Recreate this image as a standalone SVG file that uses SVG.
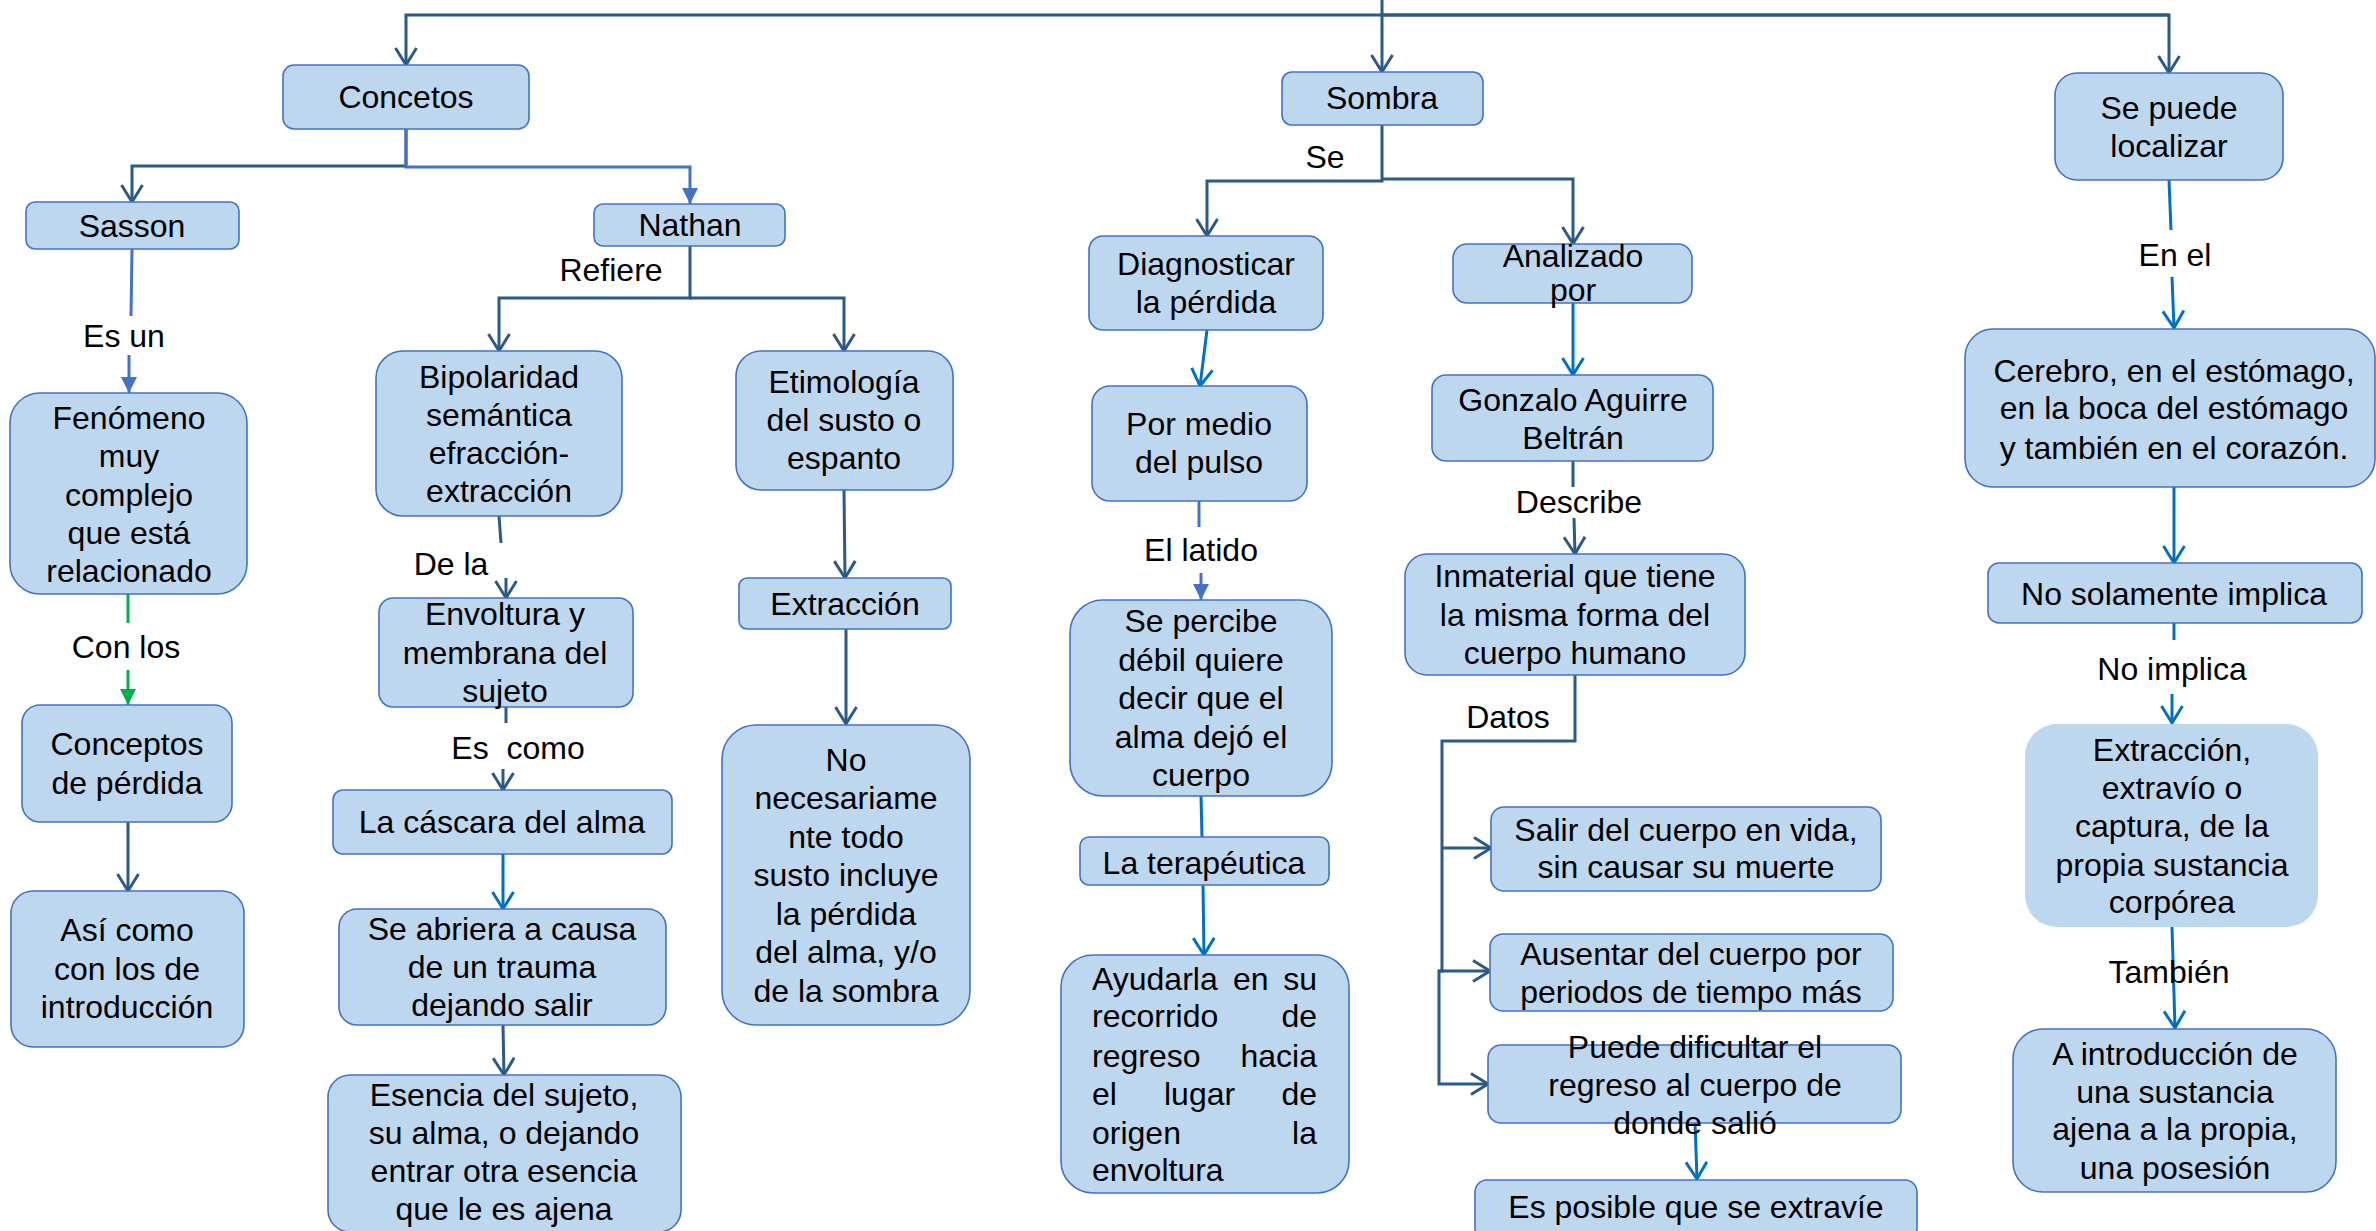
<svg xmlns="http://www.w3.org/2000/svg" width="2376" height="1231" viewBox="0 0 2376 1231">
<style>
.n{fill:#BDD7EE;stroke:#4472C4;stroke-width:1.6}
.nf{fill:#BDD7EE;stroke:none}
.t{font-family:"Liberation Sans",Arial,sans-serif;font-size:32px;fill:#000;text-anchor:middle}
.tl{font-family:"Liberation Sans",Arial,sans-serif;font-size:32px;fill:#000;text-anchor:start}
.te{font-family:"Liberation Sans",Arial,sans-serif;font-size:32px;fill:#000;text-anchor:end}
.d{fill:none;stroke:#2B5A86;stroke-width:3}
.m{fill:none;stroke:#4472C4;stroke-width:3}
.b{fill:none;stroke:#0070C0;stroke-width:3}
.g{fill:none;stroke:#00B050;stroke-width:3}
</style>
<defs>
<marker id="aD" viewBox="-2 -2 22 25" refX="17" refY="10.5" markerWidth="22" markerHeight="25" orient="auto" markerUnits="userSpaceOnUse" overflow="visible"><path d="M0,0 L17,10.5 L0,21" fill="none" stroke="#2B5A86" stroke-width="3"/></marker>
<marker id="aB" viewBox="-2 -2 22 25" refX="17" refY="10.5" markerWidth="22" markerHeight="25" orient="auto" markerUnits="userSpaceOnUse" overflow="visible"><path d="M0,0 L17,10.5 L0,21" fill="none" stroke="#0070C0" stroke-width="3"/></marker>
<marker id="tM" viewBox="0 0 16 16" refX="16" refY="8" markerWidth="16" markerHeight="16" orient="auto" markerUnits="userSpaceOnUse"><path d="M0,0 L16,8 L0,16 Z" fill="#4472C4"/></marker>
<marker id="tG" viewBox="0 0 16 16" refX="16" refY="8" markerWidth="16" markerHeight="16" orient="auto" markerUnits="userSpaceOnUse"><path d="M0,0 L16,8 L0,16 Z" fill="#00B050"/></marker>
</defs>

<g id="connectors">
<path class="d" d="M1382,0 V15"/>
<path class="d" d="M2169,15 H406 V65" marker-end="url(#aD)"/>
<path class="d" d="M1382,15 V72" marker-end="url(#aD)"/>
<path class="d" d="M1382,15 H2169 V73" marker-end="url(#aD)"/>
<path class="d" d="M406,129 V166 H132 V202" marker-end="url(#aD)"/>
<path class="m" d="M406,129 V167 H690 V204" marker-end="url(#tM)"/>
<path class="m" d="M132,249 L131,316"/>
<path class="m" d="M129,355 L129,393" marker-end="url(#tM)"/>
<path class="g" d="M128,594 V623"/>
<path class="g" d="M128,670 V705" marker-end="url(#tG)"/>
<path class="d" d="M128,822 V891" marker-end="url(#aD)"/>
<path class="d" d="M690,246 V298 H499 V351" marker-end="url(#aD)"/>
<path class="d" d="M690,298 H844 V351" marker-end="url(#aD)"/>
<path class="d" d="M499,516 L501,543"/>
<path class="d" d="M506,578 V598" marker-end="url(#aD)"/>
<path class="d" d="M506,707 V723"/>
<path class="d" d="M503,769 V790" marker-end="url(#aD)"/>
<path class="b" d="M503,854 V909" marker-end="url(#aB)"/>
<path class="d" d="M503,1025 L504,1075" marker-end="url(#aD)"/>
<path class="d" d="M844,490 L845,578" marker-end="url(#aD)"/>
<path class="d" d="M846,629 V724" marker-end="url(#aD)"/>
<path class="d" d="M1382,125 V181 H1207 V236" marker-end="url(#aD)"/>
<path class="d" d="M1382,179 H1573 V244" marker-end="url(#aD)"/>
<path class="b" d="M1207,330 L1200,386" marker-end="url(#aB)"/>
<path class="m" d="M1199,501 V527"/>
<path class="m" d="M1201,573 V600" marker-end="url(#tM)"/>
<path class="b" d="M1201,796 L1202,837"/>
<path class="b" d="M1203,885 L1204,955" marker-end="url(#aB)"/>
<path class="b" d="M1573,303 V375" marker-end="url(#aB)"/>
<path class="d" d="M1573,461 V487"/>
<path class="d" d="M1574,518 L1575,554" marker-end="url(#aD)"/>
<path class="d" d="M1575,675 V741 H1442 V971 H1439 V1084 H1488" marker-end="url(#aD)"/>
<path class="d" d="M1442,848 H1491" marker-end="url(#aD)"/>
<path class="d" d="M1439,971 H1490" marker-end="url(#aD)"/>
<path class="b" d="M1695,1122 L1697,1179" marker-end="url(#aB)"/>
<path class="b" d="M2169,180 L2171,230"/>
<path class="b" d="M2172,277 L2174,328" marker-end="url(#aB)"/>
<path class="b" d="M2174,487 V563" marker-end="url(#aB)"/>
<path class="b" d="M2174,623 V640"/>
<path class="b" d="M2172,694 V723" marker-end="url(#aB)"/>
<path class="b" d="M2172,927 L2175,1028" marker-end="url(#aB)"/>
</g>

<g id="labels">
<text class="t" x="611" y="281">Refiere</text>
<text class="t" x="124" y="347">Es un</text>
<text class="t" x="126" y="658">Con los</text>
<text class="t" x="451" y="575">De la</text>
<text class="t" x="518" y="759" xml:space="preserve">Es  como</text>
<text class="t" x="1325" y="168">Se</text>
<text class="t" x="1201" y="561">El latido</text>
<text class="t" x="1579" y="513">Describe</text>
<text class="t" x="1508" y="728">Datos</text>
<text class="t" x="2175" y="266">En el</text>
<text class="t" x="2172" y="680">No implica</text>
<text class="t" x="2169" y="983">También</text>
</g>

<g id="n-concetos"><rect class="n" x="283" y="65" width="246" height="64" rx="11"/><text class="t" x="406" y="108">Concetos</text></g>
<g id="n-sasson"><rect class="n" x="26" y="202" width="213" height="47" rx="9"/><text class="t" x="132" y="237">Sasson</text></g>
<g id="n-nathan"><rect class="n" x="594" y="204" width="191" height="42" rx="9"/><text class="t" x="690" y="236">Nathan</text></g>
<g id="n-fenomeno"><rect class="n" x="10" y="393" width="237" height="201" rx="30"/><text class="t"><tspan x="129" y="429">Fenómeno</tspan><tspan x="129" y="467">muy</tspan><tspan x="129" y="506">complejo</tspan><tspan x="129" y="544">que está</tspan><tspan x="129" y="582">relacionado</tspan></text></g>
<g id="n-conceptos"><rect class="n" x="22" y="705" width="210" height="117" rx="18"/><text class="t"><tspan x="127" y="755">Conceptos</tspan><tspan x="127" y="794">de pérdida</tspan></text></g>
<g id="n-asicomo"><rect class="n" x="11" y="891" width="233" height="156" rx="22"/><text class="t"><tspan x="127" y="941">Así como</tspan><tspan x="127" y="980">con los de</tspan><tspan x="127" y="1018">introducción</tspan></text></g>
<g id="n-bipolaridad"><rect class="n" x="376" y="351" width="246" height="165" rx="27"/><text class="t"><tspan x="499" y="388">Bipolaridad</tspan><tspan x="499" y="426">semántica</tspan><tspan x="499" y="464">efracción-</tspan><tspan x="499" y="502">extracción</tspan></text></g>
<g id="n-envoltura"><rect class="n" x="379" y="598" width="254" height="109" rx="14"/><text class="t"><tspan x="505" y="625">Envoltura y</tspan><tspan x="505" y="664">membrana del</tspan><tspan x="505" y="702">sujeto</tspan></text></g>
<g id="n-cascara"><rect class="n" x="333" y="790" width="339" height="64" rx="10"/><text class="t" x="502" y="833">La cáscara del alma</text></g>
<g id="n-abriera"><rect class="n" x="339" y="909" width="327" height="116" rx="18"/><text class="t"><tspan x="502" y="940">Se abriera a causa</tspan><tspan x="502" y="978">de un trauma</tspan><tspan x="502" y="1016">dejando salir</tspan></text></g>
<g id="n-esencia"><rect class="n" x="328" y="1075" width="353" height="157" rx="22"/><text class="t"><tspan x="504" y="1106">Esencia del sujeto,</tspan><tspan x="504" y="1144">su alma, o dejando</tspan><tspan x="504" y="1182">entrar otra esencia</tspan><tspan x="504" y="1220">que le es ajena</tspan></text></g>
<g id="n-etimologia"><rect class="n" x="736" y="351" width="217" height="139" rx="25"/><text class="t"><tspan x="844" y="393">Etimología</tspan><tspan x="844" y="431">del susto o</tspan><tspan x="844" y="469">espanto</tspan></text></g>
<g id="n-extraccion"><rect class="n" x="739" y="578" width="212" height="51" rx="8"/><text class="t" x="845" y="615">Extracción</text></g>
<g id="n-nonecesariamente"><rect class="n" x="722" y="725" width="248" height="300" rx="34"/><text class="t"><tspan x="846" y="771">No</tspan><tspan x="846" y="809">necesariame</tspan><tspan x="846" y="848">nte todo</tspan><tspan x="846" y="886">susto incluye</tspan><tspan x="846" y="925">la pérdida</tspan><tspan x="846" y="963">del alma, y/o</tspan><tspan x="846" y="1002">de la sombra</tspan></text></g>
<g id="n-sombra"><rect class="n" x="1282" y="72" width="201" height="53" rx="10"/><text class="t" x="1382" y="109">Sombra</text></g>
<g id="n-diagnosticar"><rect class="n" x="1089" y="236" width="234" height="94" rx="14"/><text class="t"><tspan x="1206" y="275">Diagnosticar</tspan><tspan x="1206" y="313">la pérdida</tspan></text></g>
<g id="n-pormedio"><rect class="n" x="1092" y="386" width="215" height="115" rx="18"/><text class="t"><tspan x="1199" y="435">Por medio</tspan><tspan x="1199" y="473">del pulso</tspan></text></g>
<g id="n-percibe"><rect class="n" x="1070" y="600" width="262" height="196" rx="33"/><text class="t"><tspan x="1201" y="632">Se percibe</tspan><tspan x="1201" y="671">débil quiere</tspan><tspan x="1201" y="709">decir que el</tspan><tspan x="1201" y="748">alma dejó el</tspan><tspan x="1201" y="786">cuerpo</tspan></text></g>
<g id="n-terapeutica"><rect class="n" x="1080" y="837" width="249" height="48" rx="9"/><text class="t" x="1204" y="874">La terapéutica</text></g>
<g id="n-ayudarla"><rect class="n" x="1061" y="955" width="288" height="238" rx="32"/>
<text class="tl" x="1092" y="990">Ayudarla</text><text class="tl" x="1233" y="990">en</text><text class="te" x="1317" y="990">su</text>
<text class="tl" x="1092" y="1027">recorrido</text><text class="te" x="1317" y="1027">de</text>
<text class="tl" x="1092" y="1067">regreso</text><text class="te" x="1317" y="1067">hacia</text>
<text class="tl" x="1092" y="1105">el</text><text class="tl" x="1164" y="1105">lugar</text><text class="te" x="1317" y="1105">de</text>
<text class="tl" x="1092" y="1144">origen</text><text class="te" x="1317" y="1144">la</text>
<text class="tl" x="1092" y="1181">envoltura</text></g>
<g id="n-analizado"><rect class="n" x="1453" y="244" width="239" height="59" rx="14"/><text class="t"><tspan x="1573" y="267">Analizado</tspan><tspan x="1573" y="301">por</tspan></text></g>
<g id="n-gonzalo"><rect class="n" x="1432" y="375" width="281" height="86" rx="14"/><text class="t"><tspan x="1573" y="411">Gonzalo Aguirre</tspan><tspan x="1573" y="449">Beltrán</tspan></text></g>
<g id="n-inmaterial"><rect class="n" x="1405" y="554" width="340" height="121" rx="22"/><text class="t"><tspan x="1575" y="587">Inmaterial que tiene</tspan><tspan x="1575" y="626">la misma forma del</tspan><tspan x="1575" y="664">cuerpo humano</tspan></text></g>
<g id="n-salir"><rect class="n" x="1491" y="807" width="390" height="84" rx="13"/><text class="t"><tspan x="1686" y="841">Salir del cuerpo en vida,</tspan><tspan x="1686" y="878">sin causar su muerte</tspan></text></g>
<g id="n-ausentar"><rect class="n" x="1490" y="934" width="403" height="77" rx="13"/><text class="t"><tspan x="1691" y="965">Ausentar del cuerpo por</tspan><tspan x="1691" y="1003">periodos de tiempo más</tspan></text></g>
<g id="n-puede"><rect class="n" x="1488" y="1045" width="413" height="78" rx="13"/><text class="t"><tspan x="1695" y="1058">Puede dificultar el</tspan><tspan x="1695" y="1096">regreso al cuerpo de</tspan><tspan x="1695" y="1134">donde salió</tspan></text></g>
<g id="n-esposible"><rect class="n" x="1475" y="1180" width="442" height="60" rx="12"/><text class="t" x="1696" y="1218">Es posible que se extravíe</text></g>
<g id="n-sepuede"><rect class="n" x="2055" y="73" width="228" height="107" rx="22"/><text class="t"><tspan x="2169" y="119">Se puede</tspan><tspan x="2169" y="157">localizar</tspan></text></g>
<g id="n-cerebro"><rect class="n" x="1965" y="329" width="410" height="158" rx="28"/><text class="t"><tspan x="2174" y="382">Cerebro, en el estómago,</tspan><tspan x="2174" y="419">en la boca del estómago</tspan><tspan x="2174" y="459">y también en el corazón.</tspan></text></g>
<g id="n-nosolamente"><rect class="n" x="1988" y="563" width="374" height="60" rx="11"/><text class="t" x="2174" y="605">No solamente implica</text></g>
<g id="n-extraccion2"><rect class="nf" x="2025" y="724" width="293" height="203" rx="32"/><text class="t"><tspan x="2172" y="761">Extracción,</tspan><tspan x="2172" y="799">extravío o</tspan><tspan x="2172" y="837">captura, de la</tspan><tspan x="2172" y="876">propia sustancia</tspan><tspan x="2172" y="913">corpórea</tspan></text></g>
<g id="n-aintroduccion"><rect class="n" x="2013" y="1029" width="323" height="163" rx="30"/><text class="t"><tspan x="2175" y="1065">A introducción de</tspan><tspan x="2175" y="1103">una sustancia</tspan><tspan x="2175" y="1140">ajena a la propia,</tspan><tspan x="2175" y="1179">una posesión</tspan></text></g>
</svg>
